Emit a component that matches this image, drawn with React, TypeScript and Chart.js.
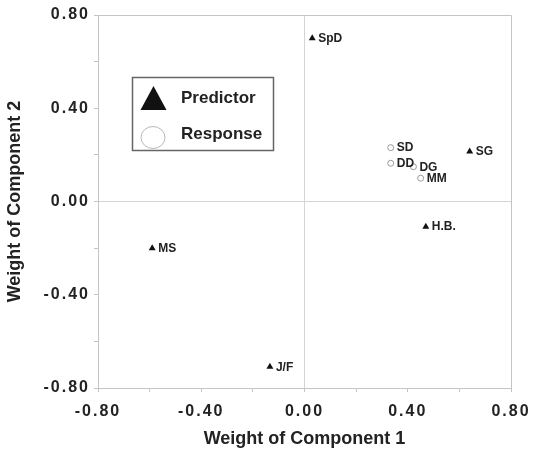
import React, { useEffect, useRef } from 'react';
import { Chart, registerables } from 'chart.js';

Chart.register(...registerables);

const FONT = '"Liberation Sans", Arial, Helvetica, sans-serif';

const predictorLabels = ['SpD', 'SG', 'H.B.', 'MS', 'J/F'];
const predictorX = [0.03, 0.64, 0.47, -0.59, -0.134];
const predictorY = [0.70, 0.214, -0.108, -0.20, -0.709];

const responseLabels = ['SD', 'DD', 'DG', 'MM'];
const responseX = [0.334, 0.334, 0.422, 0.45];
const responseY = [0.231, 0.164, 0.149, 0.10];

const seriesNames = ['Predictor', 'Response'];
const xTitle = 'Weight of Component 1';
const yTitle = 'Weight of Component 2';
const axisMin = -0.8;
const axisMax = 0.8;
const tickStep = 0.2;

const TEXT = '#222222';
const AXIS = '#c4c4c4';

function tickLabel(value: number): string {
  const k = Math.round(value * 10);
  return k % 4 === 0 ? value.toFixed(2) : '';
}

const spacingPlugin = {
  id: 'spacing',
  beforeDraw(chart: any) {
    (chart.ctx as any).letterSpacing = '2px';
  },
  beforeDatasetsDraw(chart: any) {
    const { ctx, chartArea } = chart;
    (ctx as any).letterSpacing = '0px';
    ctx.save();
    ctx.strokeStyle = AXIS;
    ctx.lineWidth = 1;
    ctx.beginPath();
    ctx.moveTo(chartArea.left, chartArea.top + 0.5);
    ctx.lineTo(chartArea.right + 0.5, chartArea.top + 0.5);
    ctx.lineTo(chartArea.right + 0.5, chartArea.bottom);
    ctx.stroke();
    ctx.restore();
  },
};

const labelPlugin = {
  id: 'pointLabels',
  afterDatasetsDraw(chart: any) {
    const ctx = chart.ctx;
    ctx.save();
    (ctx as any).letterSpacing = '0px';
    ctx.font = `bold 12px ${FONT}`;
    ctx.fillStyle = TEXT;
    ctx.textAlign = 'left';
    ctx.textBaseline = 'middle';
    chart.data.datasets.forEach((ds: any, di: number) => {
      const meta = chart.getDatasetMeta(di);
      meta.data.forEach((el: any, i: number) => {
        const lbl = ds.pointLabels[i];
        ctx.fillText(lbl, el.x + 6, el.y + 0.5);
      });
    });
    ctx.restore();
  },
  afterDraw(chart: any) {
    const { ctx, chartArea } = chart;
    ctx.save();
    (ctx as any).letterSpacing = '0px';
    // axis titles
    ctx.font = `bold 18px ${FONT}`;
    ctx.fillStyle = TEXT;
    ctx.textAlign = 'center';
    ctx.textBaseline = 'middle';
    ctx.fillText(xTitle, (chartArea.left + chartArea.right) / 2, 439);
    ctx.save();
    ctx.translate(15, (chartArea.top + chartArea.bottom) / 2);
    ctx.rotate(-Math.PI / 2);
    ctx.fillText(yTitle, 0, 0);
    ctx.restore();

    // legend box
    const bx = 132.5, by = 77.5, bw = 141, bh = 73;
    ctx.fillStyle = '#ffffff';
    ctx.fillRect(bx, by, bw, bh);
    ctx.strokeStyle = '#666666';
    ctx.lineWidth = 1.5;
    ctx.strokeRect(bx, by, bw, bh);

    const ds = chart.data.datasets;
    // predictor triangle
    const tx = 153.5, ty = 99;
    ctx.fillStyle = ds[0].backgroundColor;
    ctx.beginPath();
    ctx.moveTo(tx, ty - 13);
    ctx.lineTo(tx + 13, ty + 11);
    ctx.lineTo(tx - 13, ty + 11);
    ctx.closePath();
    ctx.fill();
    // response circle
    ctx.strokeStyle = '#b8b8b8';
    ctx.lineWidth = 1;
    ctx.fillStyle = '#ffffff';
    ctx.beginPath();
    ctx.ellipse(153, 137.5, 12, 11, 0, 0, Math.PI * 2);
    ctx.fill();
    ctx.stroke();

    ctx.font = `bold 17px ${FONT}`;
    ctx.fillStyle = TEXT;
    ctx.textAlign = 'left';
    ctx.textBaseline = 'middle';
    ctx.fillText(ds[0].label, 181, 98);
    ctx.fillText(ds[1].label, 181, 134);
    ctx.restore();
  },
};

export default function App() {
  const ref = useRef<HTMLCanvasElement | null>(null);

  useEffect(() => {
    if (!ref.current) return;
    const chart = new Chart(ref.current, {
      type: 'scatter',
      data: {
        datasets: [
          {
            label: seriesNames[0],
            data: predictorX.map((x, i) => ({ x, y: predictorY[i] })),
            pointLabels: predictorLabels,
            pointStyle: 'triangle',
            pointRadius: 4,
            backgroundColor: '#111111',
            borderColor: '#111111',
            borderWidth: 0,
          } as any,
          {
            label: seriesNames[1],
            data: responseX.map((x, i) => ({ x, y: responseY[i] })),
            pointLabels: responseLabels,
            pointStyle: 'circle',
            pointRadius: 3,
            backgroundColor: '#ffffff',
            borderColor: '#9a9a9a',
            borderWidth: 1,
          } as any,
        ],
      },
      options: {
        animation: false,
        responsive: false,
        layout: { padding: { left: 0, right: 22, top: 15, bottom: 0 } },
        plugins: {
          legend: { display: false },
          tooltip: { enabled: false },
        },
        scales: {
          x: {
            type: 'linear',
            min: axisMin,
            max: axisMax,
            afterFit: (s: any) => {
              s.height = 71;
              s.paddingLeft = 0;
              s.paddingRight = 0;
            },
            ticks: {
              stepSize: tickStep,
              autoSkip: false,
              maxRotation: 0,
              padding: 10,
              color: TEXT,
              font: { family: FONT, size: 16, weight: 'bold' },
              callback: (v: any) => tickLabel(Number(v)),
            },
            grid: {
              color: (c: any) => (c.tick && c.tick.value === 0 ? '#d4d4d4' : 'rgba(0,0,0,0)'),
              tickColor: AXIS,
              tickLength: 4,
            },
            border: { display: true, color: AXIS },
          },
          y: {
            type: 'linear',
            min: axisMin,
            max: axisMax,
            afterFit: (s: any) => {
              s.width = 98;
              s.paddingTop = 0;
              s.paddingBottom = 0;
            },
            ticks: {
              stepSize: tickStep,
              autoSkip: false,
              padding: 4,
              color: TEXT,
              font: { family: FONT, size: 16, weight: 'bold' },
              callback: (v: any) => tickLabel(Number(v)),
            },
            grid: {
              color: (c: any) => (c.tick && c.tick.value === 0 ? '#d4d4d4' : 'rgba(0,0,0,0)'),
              tickColor: AXIS,
              tickLength: 4,
            },
            border: { display: true, color: AXIS },
          },
        },
      },
      plugins: [spacingPlugin, labelPlugin],
    } as any);
    return () => chart.destroy();
  }, []);

  return (
    <div style={{ position: 'absolute', left: 0, top: 0, width: 533, height: 459, background: '#ffffff' }}>
      <canvas ref={ref} width={533} height={459} style={{ display: 'block' }} />
    </div>
  );
}
